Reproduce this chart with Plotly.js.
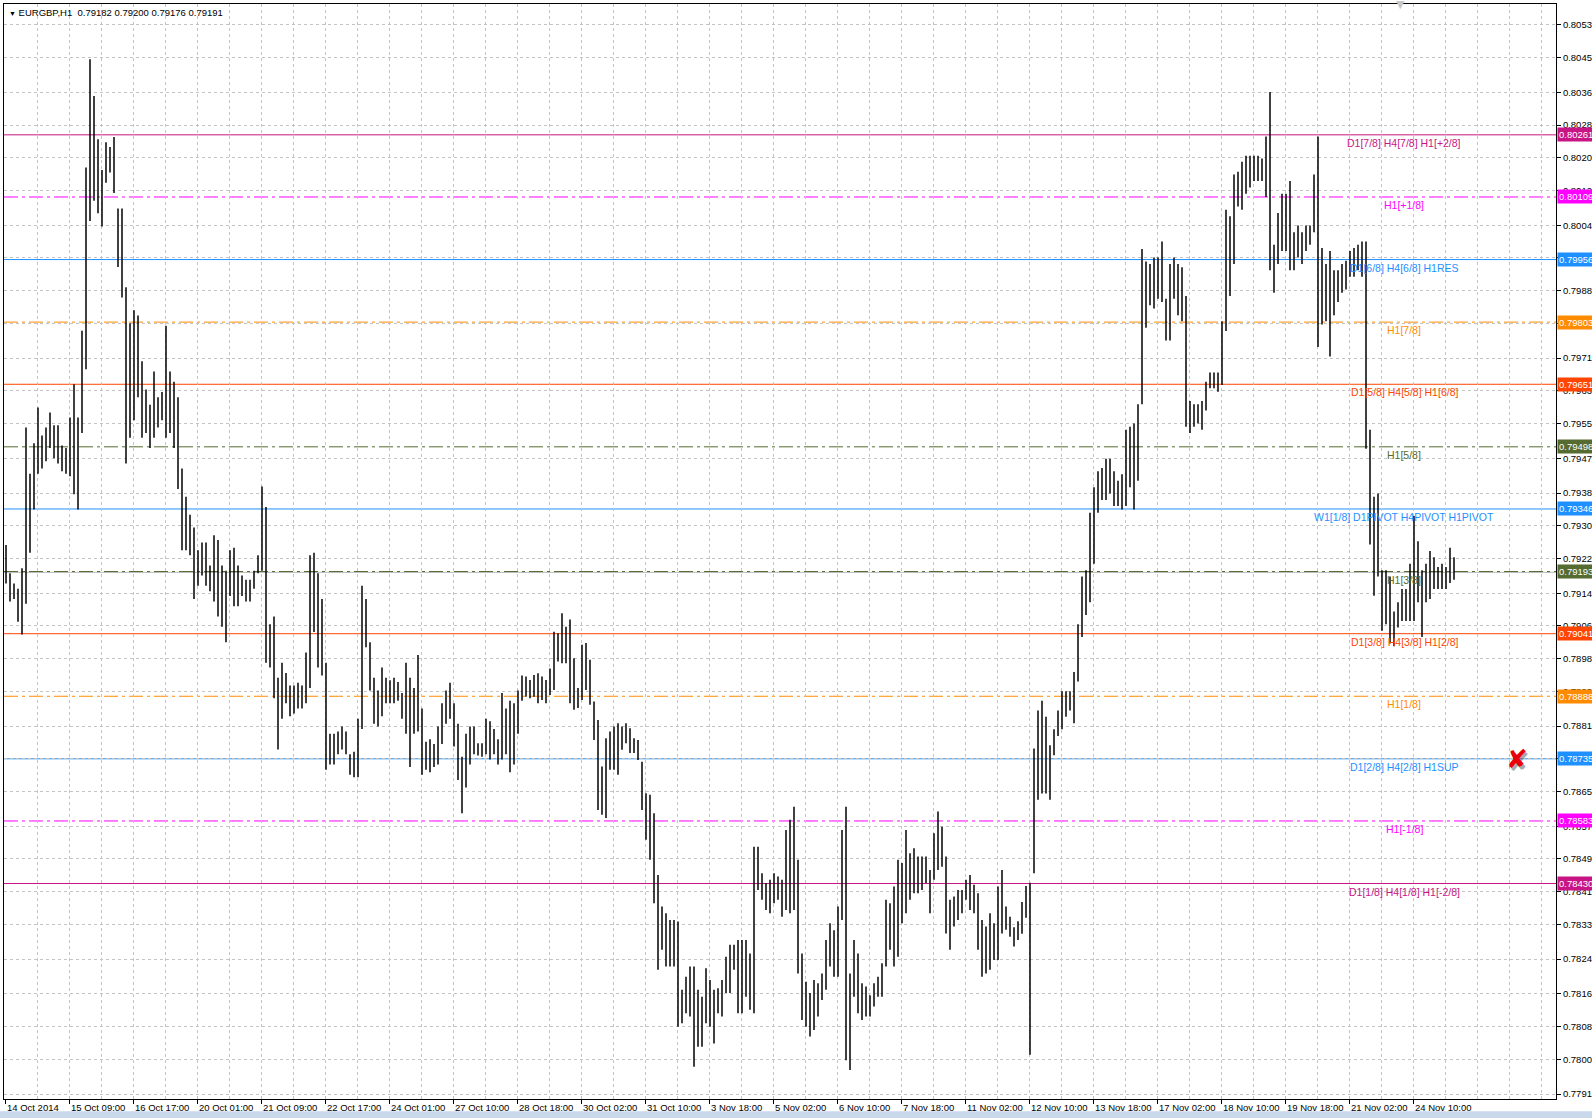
<!DOCTYPE html>
<html><head><meta charset="utf-8">
<script src="https://cdn.plot.ly/plotly-3.0.1.min.js"></script>
<style>html,body{margin:0;padding:0;background:#fff;}#chart{width:1592px;height:1118px;}</style>
</head><body><div id="chart"></div>
<script>
// ---- DATA (EURGBP H1, each entry = one 2-hour slice: high / low) ----
const symbolTitle = "EURGBP,H1";
const lastQuote = [0.79182, 0.79200, 0.79176, 0.79191];
const bidPrice = 0.79191;

const barHigh = [
0.79258,0.79189,0.79164,0.79151,0.79201,0.79545,0.79432,0.79507,0.79594,0.79526,
0.79545,0.79582,0.79551,0.79551,0.79501,0.79495,0.79570,0.79651,0.79570,0.79782,
0.80181,0.80446,0.80356,0.80250,0.80175,0.80243,0.80231,0.80256,0.80081,0.80081,
0.79888,0.79800,0.79832,0.79819,0.79707,0.79638,0.79601,0.79682,0.79619,0.79632,
0.79794,0.79682,0.79657,0.79619,0.79445,0.79376,0.79332,0.79301,0.79245,0.79264,
0.79264,0.79208,0.79282,0.79270,0.79208,0.79195,0.79245,0.79251,0.79208,0.79183,
0.79173,0.79173,0.79195,0.79233,0.79401,0.79351,0.79064,0.79083,0.78933,0.78970,
0.78945,0.78914,0.78914,0.78921,0.78914,0.78995,0.79233,0.79239,0.79189,0.79126,
0.78970,0.78796,0.78796,0.78802,0.78814,0.78802,0.78746,0.78752,0.78833,0.79158,
0.79126,0.79020,0.78933,0.78902,0.78958,0.78933,0.78927,0.78933,0.78923,0.78896,
0.78970,0.78933,0.78908,0.78989,0.78858,0.78777,0.78783,0.78771,0.78814,0.78871,
0.78902,0.78921,0.78871,0.78821,0.78740,0.78796,0.78814,0.78814,0.78773,0.78773,
0.78833,0.78827,0.78808,0.78783,0.78896,0.78858,0.78877,0.78871,0.78902,0.78939,
0.78936,0.78928,0.78940,0.78944,0.78936,0.78928,0.78956,0.79046,0.79042,0.79091,
0.79058,0.79076,0.78981,0.78908,0.79014,0.79018,0.78977,0.78875,0.78830,0.78716,
0.78785,0.78802,0.78814,0.78822,0.78814,0.78822,0.78810,0.78785,0.78781,0.78728,
0.78651,0.78647,0.78602,0.78451,0.78374,0.78357,0.78341,0.78341,0.78337,0.78170,
0.78202,0.78227,0.78227,0.78170,0.78153,0.78223,0.78194,0.78170,0.78174,0.78194,
0.78251,0.78280,0.78280,0.78292,0.78292,0.78292,0.78259,0.78520,0.78520,0.78455,
0.78431,0.78439,0.78455,0.78447,0.78439,0.78561,0.78586,0.78618,0.78488,0.78259,
0.78190,0.78162,0.78194,0.78186,0.78210,0.78292,0.78333,0.78316,0.78374,0.78561,
0.78618,0.78210,0.78292,0.78259,0.78186,0.78178,0.78157,0.78186,0.78202,0.78235,
0.78390,0.78382,0.78423,0.78488,0.78480,0.78561,0.78504,0.78516,0.78496,0.78496,
0.78496,0.78463,0.78553,0.78606,0.78569,0.78496,0.78390,0.78398,0.78414,0.78414,
0.78439,0.78451,0.78427,0.78406,0.78341,0.78325,0.78357,0.78333,0.78423,0.78463,
0.78374,0.78349,
0.78323,0.78338,0.78385,0.78424,0.78432,0.78760,0.78853,0.78877,0.78838,0.78768,
0.78807,0.78853,0.78900,0.78900,0.78900,0.78947,0.79064,0.79181,0.79196,0.79337,
0.79399,0.79438,0.79446,0.79469,0.79469,0.79438,0.79415,0.79431,0.79540,0.79547,
0.79555,0.79602,0.79982,0.79951,0.79945,0.79961,0.79961,0.80000,0.79860,0.79945,
0.79961,0.79945,0.79937,0.79867,0.79610,0.79602,0.79602,0.79610,0.79657,0.79680,
0.79680,0.79680,0.79805,0.80078,0.80062,0.80164,0.80171,0.80195,0.80210,0.80210,
0.80210,0.80210,0.80203,0.80257,0.80366,0.79992,0.80070,0.80117,0.80117,0.80148,
0.80023,0.80039,0.80023,0.80039,0.80039,0.80164,0.80257,0.79984,0.79945,0.79977,
0.79930,0.79930,0.79945,0.79953,0.79977,0.79984,0.79992,0.80000,0.80000,0.79540,
0.79376,0.79384,0.79196,0.79196,0.79181,0.79095,0.79118,0.79150,0.79150,0.79212,
0.79329,0.79267,0.79196,0.79212,0.79243,0.79228,0.79204,0.79212,0.79204,0.79251,
0.79228
];
const barLow = [
0.79164,0.79120,0.79126,0.79070,0.79039,0.79114,0.79239,0.79345,0.79432,0.79445,
0.79463,0.79495,0.79470,0.79457,0.79438,0.79432,0.79426,0.79382,0.79345,0.79532,
0.79688,0.80050,0.80100,0.80069,0.80037,0.80144,0.80169,0.80119,0.79938,0.79863,
0.79457,0.79520,0.79563,0.79619,0.79520,0.79532,0.79495,0.79520,0.79545,0.79563,
0.79520,0.79532,0.79495,0.79395,0.79245,0.79245,0.79233,0.79126,0.79158,0.79183,
0.79158,0.79145,0.79120,0.79083,0.79058,0.79020,0.79133,0.79108,0.79108,0.79133,
0.79120,0.79120,0.79151,0.79189,0.79195,0.78970,0.78958,0.78883,0.78758,0.78833,
0.78871,0.78839,0.78846,0.78858,0.78858,0.78871,0.78908,0.79045,0.78958,0.78939,
0.78708,0.78721,0.78721,0.78746,0.78758,0.78746,0.78696,0.78690,0.78690,0.78808,
0.79008,0.78902,0.78821,0.78814,0.78839,0.78871,0.78871,0.78871,0.78877,0.78833,
0.78796,0.78715,0.78796,0.78802,0.78696,0.78708,0.78702,0.78715,0.78721,0.78771,
0.78821,0.78833,0.78765,0.78683,0.78602,0.78665,0.78721,0.78746,0.78743,0.78740,
0.78746,0.78733,0.78746,0.78721,0.78733,0.78746,0.78702,0.78721,0.78796,0.78877,
0.78887,0.78883,0.78887,0.78871,0.78879,0.78871,0.78891,0.78903,0.78973,0.78969,
0.78969,0.78871,0.78855,0.78859,0.78879,0.78903,0.78867,0.78781,0.78610,0.78598,
0.78590,0.78708,0.78708,0.78696,0.78757,0.78773,0.78749,0.78749,0.78732,0.78610,
0.78537,0.78488,0.78382,0.78219,0.78268,0.78227,0.78227,0.78227,0.78080,0.78088,
0.78113,0.78105,0.77982,0.78031,0.78031,0.78088,0.78080,0.78039,0.78113,0.78105,
0.78162,0.78162,0.78219,0.78113,0.78113,0.78153,0.78121,0.78113,0.78414,0.78390,
0.78365,0.78357,0.78382,0.78390,0.78349,0.78365,0.78357,0.78365,0.78210,0.78096,
0.78080,0.78056,0.78072,0.78105,0.78145,0.78170,0.78227,0.78202,0.78202,0.78341,
0.77998,0.77974,0.78153,0.78113,0.78096,0.78105,0.78105,0.78129,0.78153,0.78153,
0.78227,0.78268,0.78227,0.78251,0.78333,0.78357,0.78390,0.78406,0.78406,0.78414,
0.78431,0.78357,0.78439,0.78463,0.78471,0.78308,0.78268,0.78325,0.78341,0.78357,
0.78390,0.78365,0.78357,0.78268,0.78202,0.78210,0.78219,0.78243,0.78243,0.78308,
0.78317,0.78300,
0.78276,0.78292,0.78307,0.78346,0.78011,0.78455,0.78635,0.78650,0.78650,0.78635,
0.78744,0.78791,0.78807,0.78838,0.78853,0.78822,0.78924,0.79033,0.79087,0.79118,
0.79212,0.79337,0.79368,0.79368,0.79384,0.79353,0.79353,0.79345,0.79353,0.79399,
0.79345,0.79415,0.79602,0.79789,0.79844,0.79836,0.79860,0.79852,0.79758,0.79758,
0.79860,0.79820,0.79805,0.79547,0.79532,0.79547,0.79555,0.79540,0.79587,0.79641,
0.79641,0.79633,0.79649,0.79781,0.79867,0.79945,0.80086,0.80078,0.80117,0.80132,
0.80148,0.80148,0.80148,0.80109,0.79930,0.79875,0.79945,0.79977,0.79977,0.79930,
0.79930,0.79961,0.79945,0.79977,0.79992,0.80023,0.79742,0.79797,0.79805,0.79719,
0.79820,0.79852,0.79875,0.79883,0.79914,0.79914,0.79930,0.79914,0.79493,0.79259,
0.79134,0.79181,0.79048,0.79064,0.79017,0.79010,0.79056,0.79072,0.79072,0.79072,
0.79072,0.79118,0.79033,0.79118,0.79126,0.79150,0.79150,0.79150,0.79150,0.79165,
0.79173
];

const timeLabels = ["14 Oct 2014","15 Oct 09:00","16 Oct 17:00","20 Oct 01:00","21 Oct 09:00",
"22 Oct 17:00","24 Oct 01:00","27 Oct 10:00","28 Oct 18:00","30 Oct 02:00","31 Oct 10:00",
"3 Nov 18:00","5 Nov 02:00","6 Nov 10:00","7 Nov 18:00","11 Nov 02:00","12 Nov 10:00",
"13 Nov 18:00","17 Nov 02:00","18 Nov 10:00","19 Nov 18:00","21 Nov 02:00","24 Nov 10:00"];

const priceTicks = [0.80530,0.80450,0.80365,0.80285,0.80205,0.80125,0.80040,0.79960,0.79880,
0.79800,0.79715,0.79635,0.79555,0.79470,0.79385,0.79305,0.79225,0.79140,0.79060,0.78980,
0.78900,0.78815,0.78735,0.78655,0.78570,0.78490,0.78410,0.78330,0.78245,0.78160,0.78080,
0.78000,0.77915];

const levelValues = [0.80261,0.80109,0.79956,0.79803,0.79651,0.79498,0.79346,0.79193,0.79041,0.78888,0.78735,0.78583,0.78430];
const levelNames = ["D1[7/8] H4[7/8] H1[+2/8]","H1[+1/8]","D1[6/8] H4[6/8] H1RES","H1[7/8]",
"D1[5/8] H4[5/8] H1[6/8]","H1[5/8]","W1[1/8] D1PIVOT H4PIVOT H1PIVOT","H1[3/8]",
"D1[3/8] H4[3/8] H1[2/8]","H1[1/8]","D1[2/8] H4[2/8] H1SUP","H1[-1/8]","D1[1/8] H4[1/8] H1[-2/8]"];
const levelColors = ["#C71585","#FF00FF","#1E90FF","#FF8C00","#FF4500","#556B2F","#1E90FF",
"#556B2F","#FF4500","#FF8C00","#1E90FF","#FF00FF","#C71585"];
const levelStyles = ["solid","dashdot","solid","dashdot","solid","dashdot","solid","dashdot",
"solid","dashdot","solid","dashdot","solid"];

// ---- CHART ----
const FONT = "Liberation Sans, Arial, sans-serif";
const GROUPS_PER_LABEL = 16, GROUPS_PER_GRID = 8;
const DASHDOT = "14px,4px,3px,4px";
const GRID = "#C4C4C4";

const bx = [], by = [];
for (let i = 0; i < barHigh.length; i++) {
  bx.push(i, i, null);
  by.push(barLow[i], barHigh[i], null);
}
const bars = {
  type: "scatter", mode: "lines", x: bx, y: by,
  line: {color: "#000000", width: 1.5}, hoverinfo: "skip", connectgaps: false
};

const shapes = [];
shapes.push({type:"line", xref:"paper", x0:0, x1:1, yref:"y", y0:bidPrice, y1:bidPrice,
  line:{color:"#B8B8B8", width:1}, layer:"below"});
levelValues.forEach((v, k) => {
  shapes.push({type:"line", xref:"paper", x0:0, x1:1, yref:"y", y0:v, y1:v,
    line:{color:levelColors[k], width:1, dash: levelStyles[k]==="dashdot" ? DASHDOT : "solid"},
    layer:"below"});
});
// taskbar strip at the bottom of the window
shapes.push({type:"rect", xref:"paper", yref:"paper", x0:-0.003, x1:1.024, y0:-0.0112, y1:-0.02,
  fillcolor:"#C9D8EA", line:{width:0}, layer:"above"});

const annotations = [];
const LABEL_X = 0.9021; // centre of the level captions, as a fraction of the plot width
levelValues.forEach((v, k) => {
  annotations.push({xref:"paper", x:LABEL_X, xanchor:"center", yref:"y", y:v, yanchor:"top",
    yshift:-1, text: levelNames[k], showarrow:false, borderpad:0,
    font:{family:FONT, size:10.5, color:levelColors[k]}});
});
levelValues.forEach((v, k) => {
  annotations.push({xref:"paper", x:1, xanchor:"left", xshift:1, yref:"y", y:v, yanchor:"middle",
    text: v.toFixed(5), showarrow:false, bgcolor: levelColors[k], borderpad:1,
    font:{family:FONT, size:9.5, color:"#FFFFFF"}});
});
timeLabels.forEach((t, k) => {
  annotations.push({xref:"x", x:k*GROUPS_PER_LABEL - 0.25, xanchor:"left", xshift:0,
    yref:"paper", y:0, yanchor:"top", yshift:-1, text:t, showarrow:false,
    font:{family:FONT, size:9.5, color:"#000"}});
});
annotations.push({xref:"paper", yref:"paper", x:0, y:1, xanchor:"left", yanchor:"top",
  xshift:3, yshift:-1, showarrow:false,
  text:"<span style='font-size:7px'>▼</span> " + symbolTitle + "  " + lastQuote.map(v=>v.toFixed(5)).join(" "),
  font:{family:FONT, size:9.5, color:"#000"}});
annotations.push({xref:"paper", yref:"y", x:0.9833, y:levelValues[10], xshift:2, yshift:-3,
  text:"✘", showarrow:false, font:{family:"DejaVu Sans", size:26, color:"rgba(60,60,60,0.45)"}});
annotations.push({xref:"paper", yref:"y", x:0.9833, y:levelValues[10],
  text:"✘", showarrow:false, font:{family:"DejaVu Sans", size:26, color:"#E8000B"}});
annotations.push({xref:"paper", yref:"paper", x:0.9040, y:1, yanchor:"middle", showarrow:false,
  text:"▼", font:{family:"DejaVu Sans", size:11, color:"#C8C8C8"}});

const layout = {
  width: 1592, height: 1118,
  margin: {l:4, r:36, t:4, b:19, pad:0},
  paper_bgcolor: "#FFFFFF", plot_bgcolor: "#FFFFFF",
  showlegend: false, font: {family: FONT, size: 9.5, color: "#000"},
  xaxis: {
    range: [-0.5, 387.5], tickmode: "array",
    tickvals: timeLabels.map((_, k) => k*GROUPS_PER_LABEL - 0.25),
    showticklabels: false, ticks: "outside", ticklen: 4, tickcolor: "#000",
    showgrid: true, gridcolor: GRID, griddash: "3px,3px", gridwidth: 1,
    minor: {tickmode: "linear", tick0: -0.25, dtick: GROUPS_PER_GRID, showgrid: true,
            gridcolor: GRID, griddash: "3px,3px", gridwidth: 1, ticks: ""},
    showline: true, linecolor: "#000", linewidth: 1, mirror: true, zeroline: false, fixedrange: true
  },
  yaxis: {
    side: "right", range: [0.77903, 0.80581], tickmode: "array",
    tickvals: priceTicks, ticktext: priceTicks.map(v => v.toFixed(5)),
    ticks: "outside", ticklen: 4, tickcolor: "#000",
    tickfont: {family: FONT, size: 9.5, color: "#000"},
    showgrid: true, gridcolor: GRID, griddash: "3px,3px", gridwidth: 1,
    showline: true, linecolor: "#000", linewidth: 1, mirror: true, zeroline: false, fixedrange: true
  },
  shapes: shapes, annotations: annotations
};

Plotly.newPlot("chart", [bars], layout, {displayModeBar: false, staticPlot: true});
</script>
</body></html>
